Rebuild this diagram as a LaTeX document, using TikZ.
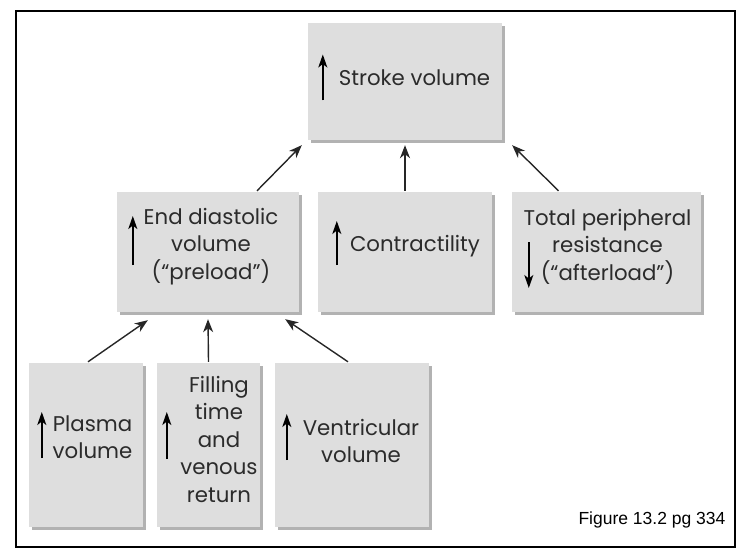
\documentclass[tikz,border=0pt]{standalone}
\usepackage{fontspec}
\setmainfont{Poppins}
\newfontfamily\captionfont{Liberation Sans}
\usetikzlibrary{arrows.meta}
\definecolor{boxface}{HTML}{DEDEDE}
\definecolor{boxshade}{HTML}{B2B2B2}
\definecolor{boxtextcol}{HTML}{2B2B2B}

\begin{document}
\begin{tikzpicture}[
    x=1pt, y=-1pt,
    box/.style={fill=boxface, inner sep=0pt,
        preaction={fill=boxshade, transform canvas={shift={(3pt,-3pt)}}}},
    boxtext/.style={align=center, text=boxtextcol, inner sep=0pt,
        font=\fontsize{21.3}{27.5}\selectfont},
    link/.style={-{Stealth[length=13pt,width=10pt,inset=4pt]}, line width=1.4pt, draw=black!85},
    change/.style={-{Stealth[length=13pt,width=9pt,inset=3.5pt]}, line width=1.8pt}
]
\useasboundingbox (0,0) rectangle (738,553);
\draw[line width=2.5pt] (16,11) rectangle (735,547);

% top row
\node[box, minimum width=194pt, minimum height=117pt] (sv) at (405,81.5) {};
\node[boxtext] (svtext) at (414.5,78) {Stroke volume};
\draw[change] ([xshift=15pt,yshift=-19pt]sv.west) -- ([xshift=15pt,yshift=27pt]sv.west);

% middle row
\node[box, minimum width=182pt, minimum height=120pt] (edv) at (208,252) {};
\node[box, minimum width=174pt, minimum height=120pt] (con) at (405,252) {};
\node[box, minimum width=189pt, minimum height=120pt] (tpr) at (606.5,252) {};
\node[boxtext] (edvtext) at (211,246.5) {End diastolic\\volume\\(“preload”)};
\node[boxtext] (context) at (415,246) {Contractility};
\node[boxtext] (tprtext) at (607.5,246.5) {Total peripheral\\resistance\\(“afterload”)};
\draw[change] ([xshift=16pt,yshift=-13pt]edv.west) -- ([xshift=16pt,yshift=36pt]edv.west);
\draw[change] ([xshift=19pt,yshift=-13pt]con.west) -- ([xshift=19pt,yshift=31pt]con.west);
\draw[change] ([xshift=17pt,yshift=10pt]tpr.west) -- ([xshift=17pt,yshift=-36pt]tpr.west);

% bottom row
\node[box, minimum width=114pt, minimum height=164pt] (pv) at (86,445) {};
\node[box, minimum width=103pt, minimum height=164pt] (ft) at (208.5,445) {};
\node[box, minimum width=154pt, minimum height=164pt] (vv) at (352,445) {};
\node[boxtext] (pvtext) at (92.5,437) {Plasma\\volume};
\node[boxtext] (fttext) at (219,439) {Filling\\time\\and\\venous\\return};
\node[boxtext] (vvtext) at (361,441) {Ventricular\\volume};
\draw[change] ([xshift=13pt,yshift=-13pt]pv.west) -- ([xshift=13pt,yshift=33pt]pv.west);
\draw[change] ([xshift=10pt,yshift=-14pt]ft.west) -- ([xshift=10pt,yshift=33pt]ft.west);
\draw[change] ([xshift=12pt,yshift=-15pt]vv.west) -- ([xshift=12pt,yshift=31pt]vv.west);

% connectors
\draw[link] ([xshift=49pt,yshift=1pt]edv.north) -- ([xshift=-6pt,yshift=-5pt]sv.south west);
\draw[link] ([yshift=1pt]con.north) -- ([yshift=-5pt]sv.south);
\draw[link] ([xshift=-48pt,yshift=1pt]tpr.north) -- ([xshift=10pt,yshift=-5pt]sv.south east);
\draw[link] ([xshift=2pt,yshift=1pt]pv.north) -- ([xshift=31pt,yshift=-8pt]edv.south west);
\draw[link] ([yshift=1pt]ft.north) -- ([yshift=-7pt]edv.south);
\draw[link] ([xshift=-4pt,yshift=1pt]vv.north) -- ([xshift=-14pt,yshift=-7pt]edv.south east);

\node[font=\captionfont\fontsize{17.5}{20}\selectfont, inner sep=0pt] (fig) at (652,520) {Figure 13.2 pg 334};
\end{tikzpicture}
\end{document}
